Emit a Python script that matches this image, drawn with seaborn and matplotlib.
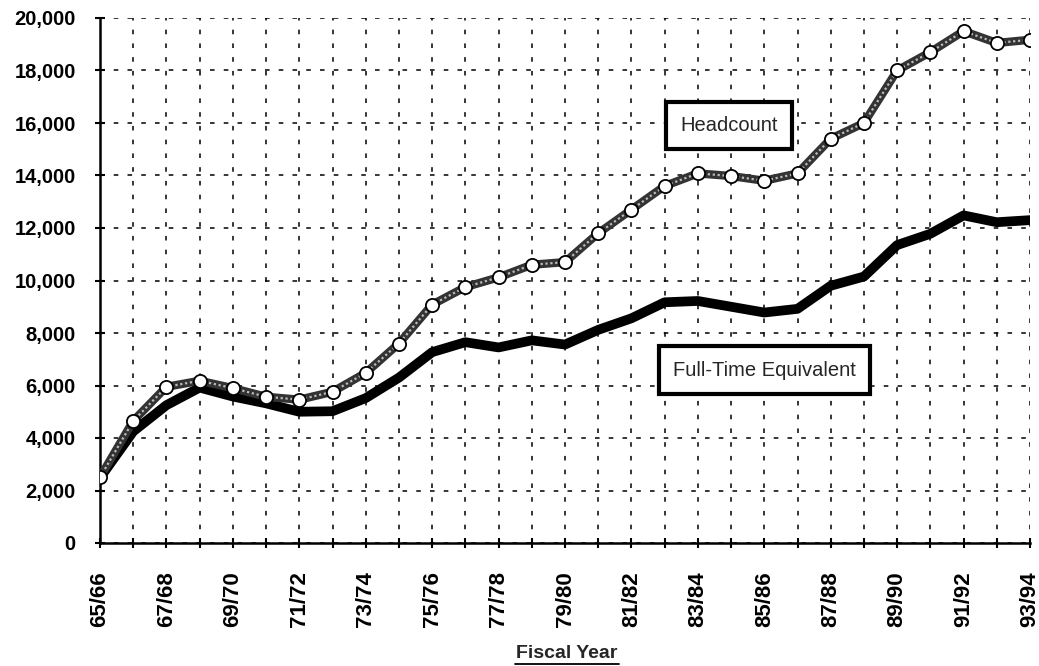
import matplotlib
matplotlib.use("Agg")
import matplotlib.pyplot as plt
import seaborn as sns
import pandas as pd
import numpy as np
from matplotlib.lines import Line2D

years = ["65/66", "66/67", "67/68", "68/69", "69/70", "70/71", "71/72", "72/73",
         "73/74", "74/75", "75/76", "76/77", "77/78", "78/79", "79/80", "80/81",
         "81/82", "82/83", "83/84", "84/85", "85/86", "86/87", "87/88", "88/89",
         "89/90", "90/91", "91/92", "92/93", "93/94"]
headcount = [2500, 4650, 5950, 6180, 5900, 5570, 5460, 5760, 6480, 7600, 9080,
             9750, 10120, 10600, 10700, 11800, 12700, 13600, 14080, 13980, 13800,
             14080, 15400, 16000, 18000, 18700, 19500, 19050, 19170]
fte = [2480, 4250, 5250, 5920, 5580, 5320, 5000, 5020, 5520, 6300, 7270, 7650,
       7450, 7720, 7560, 8120, 8560, 9170, 9220, 9000, 8780, 8920, 9800, 10150,
       11350, 11780, 12480, 12220, 12300]
yticks = [0, 2000, 4000, 6000, 8000, 10000, 12000, 14000, 16000, 18000, 20000]

sns.set_theme(style="white")
plt.rcParams['font.family'] = ['Liberation Sans', 'DejaVu Sans']

df = pd.DataFrame({
    "idx": list(range(len(years))) * 2,
    "value": headcount + fte,
    "series": ["Headcount"] * len(years) + ["Full-Time Equivalent"] * len(years),
})

fig = plt.figure(figsize=(10.39, 6.66), dpi=100)
ax = fig.add_axes([100 / 1039, 1 - 543 / 666, 930 / 1039, 525 / 666])

# Full-time equivalent: thick black line
sns.lineplot(data=df[df.series == "Full-Time Equivalent"], x="idx", y="value",
             ax=ax, color="black", linewidth=7, legend=False, zorder=3)
# Headcount: textured grey line with open markers
hc = df[df.series == "Headcount"]
sns.lineplot(data=hc, x="idx", y="value", ax=ax, color="#333333", linewidth=6,
             legend=False, zorder=4)
sns.lineplot(data=hc, x="idx", y="value", ax=ax, color="#bbbbbb", linewidth=1.6,
             linestyle=(0, (1, 1.2)), legend=False, zorder=5)
sns.scatterplot(data=hc, x="idx", y="value", ax=ax, s=90, marker="o",
                facecolor="white", edgecolor="black", linewidth=1.3,
                legend=False, zorder=6)

ax.set_xlim(0, len(years) - 1)
ax.set_ylim(0, 20000)
ax.set_xticks(range(len(years)))
ax.set_xticklabels([y if i % 2 == 0 else "" for i, y in enumerate(years)],
                   rotation=90, fontsize=16, fontweight="bold")
ax.set_yticks(yticks)
ax.set_yticklabels([f"{v:,}" for v in yticks], fontsize=14.5, fontweight="bold")
ax.set_xlabel("")
ax.set_ylabel("")

ax.grid(True, color="black", linestyle=(0, (3, 6)), linewidth=1.1)
ax.set_axisbelow(True)
for s in ["top", "right"]:
    ax.spines[s].set_visible(False)
for s in ["left", "bottom"]:
    ax.spines[s].set_color("black")
    ax.spines[s].set_linewidth(1.8)
ax.tick_params(axis="both", direction="inout", length=7, width=1.5,
               color="black", labelcolor="black", bottom=True, left=True)
ax.tick_params(axis="x", pad=17)
ax.tick_params(axis="y", pad=14)

box = dict(boxstyle="square,pad=0.7", facecolor="white", edgecolor="black", linewidth=3)
ax.text(18.94, 15920, "Headcount", fontsize=14.5, ha="center", va="center",
        bbox=box, zorder=7)
ax.text(20.0, 6590, "Full-Time Equivalent", fontsize=14.5, ha="center", va="center",
        bbox=box, zorder=7)

fig.text(567 / 1039, 1 - 654 / 666, "Fiscal Year", fontsize=14, fontweight="bold",
         ha="center", va="center")
fig.add_artist(Line2D([515 / 1039, 619 / 1039], [1 - 663.5 / 666, 1 - 663.5 / 666],
                      color="black", linewidth=1.3))

fig.savefig("out.png", dpi=100)
